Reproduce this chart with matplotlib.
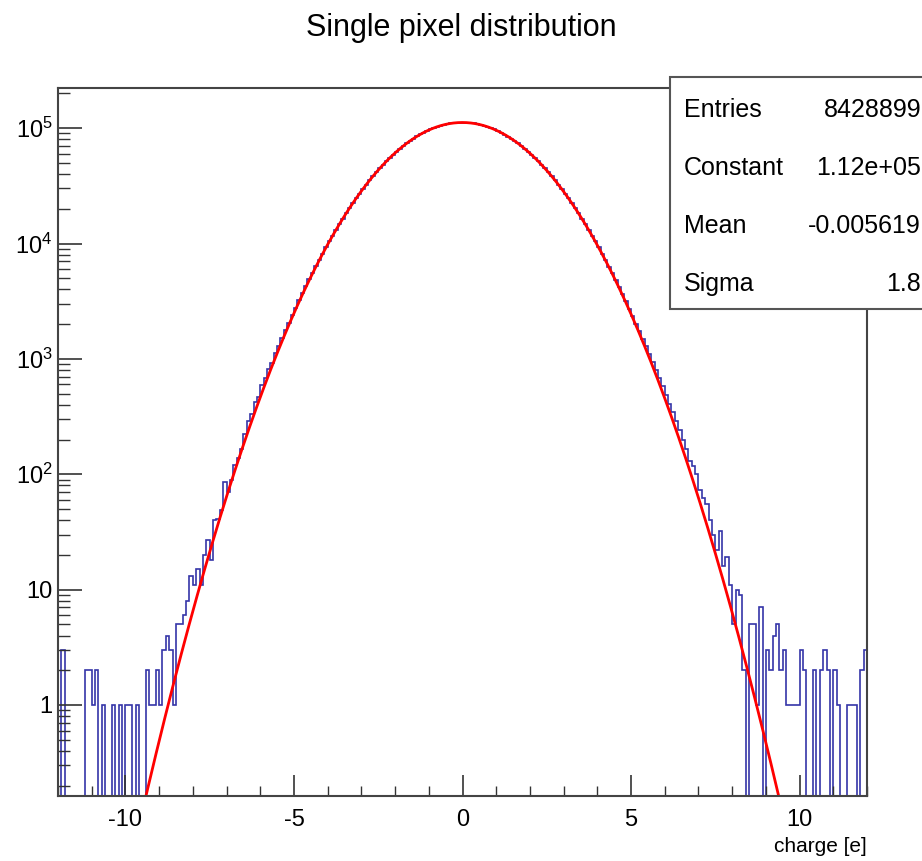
import numpy as np
import matplotlib
matplotlib.use("Agg")
import matplotlib.pyplot as plt
from matplotlib.patches import Rectangle
from matplotlib.ticker import FuncFormatter, MultipleLocator, FixedLocator, NullFormatter

# histogram: 240 bins of 0.1 e from -12 to 12, counts
x_min, x_max = -12.0, 12.0

counts_left_tail = [  # bins 0..54  (-12.0 .. -6.5)
    0, 3, 0, 0, 0, 0, 0, 0, 2, 2, 1, 2, 0, 1, 0, 0, 1, 0, 1, 0,
    1, 1, 0, 1, 0, 0, 2, 1, 1, 2, 1, 3, 4, 3, 1, 5, 5, 6, 8, 13,
    11, 15, 11, 20, 27, 18, 40, 41, 49, 85, 70, 90, 120, 138, 165,
]
counts_core = [  # bins 55..186  (-6.5 .. 6.7)
    225, 290, 335, 420, 470, 590, 680, 820, 930, 1130,
    1300, 1520, 1780, 2060, 2410, 2780, 3220, 3710, 4260, 4880,
    5570, 6350, 7220, 8190, 9250, 10440, 11720, 13150, 14700, 16400,
    18230, 20210, 22340, 24640, 27070, 29650, 32400, 35280, 38300, 41470,
    44750, 48150, 51650, 55240, 58890, 62600, 66340, 70080, 73830, 77530,
    81170, 84720, 88170, 91460, 94590, 97520, 100240, 102730, 104960, 106910,
    108560, 109900, 110920, 111600, 111950,
    111940, 111590, 110900, 109880, 108530, 106880, 104920, 102690, 100200, 97480,
    94550, 91420, 88120, 84680, 81130, 77500, 73800, 70060, 66310, 62580,
    58880, 55230, 51640, 48140, 44740, 41460, 38290, 35270, 32390, 29640,
    27060, 24630, 22340, 20210, 18230, 16410, 14710, 13160, 11730, 10450,
    9240, 8170, 7190, 6310, 5520, 4820, 4200, 3650, 3160, 2730,
    2350, 2020, 1740, 1500, 1290, 1100, 940, 800, 680, 580,
    490, 410, 345, 290, 240, 200, 165,
]
counts_right_tail = [  # bins 187..239  (6.7 .. 12.0)
    130, 118, 100, 73, 62, 55, 40, 30, 22, 32,
    16, 19, 11, 5, 10, 9, 2, 0, 5, 5,
    1, 7, 0, 3, 2, 4, 5, 2, 3, 1,
    1, 1, 1, 3, 2, 0, 0, 2, 0, 2,
    3, 2, 0, 2, 1, 0, 0, 1, 1, 1,
    0, 2, 3,
]
counts = np.array(counts_left_tail + counts_core + counts_right_tail, dtype=float)

# y axis decades and gaussian fit shown in the stats box
y_decades = [1, 10, 1e2, 1e3, 1e4, 1e5]
entries = 8428899
fit_constant = 1.12e5
fit_mean = -0.005619
fit_sigma = 1.81

plt.rcParams['font.family'] = ['Liberation Sans', 'DejaVu Sans']
plt.rcParams['axes.unicode_minus'] = False

W, H = 922, 861
fig = plt.figure(figsize=(W / 100, H / 100), dpi=100)
ax = fig.add_axes([58 / W, 1 - 796 / H, (867 - 58) / W, (796 - 88) / H])

edges = np.linspace(x_min, x_max, len(counts) + 1)
drawn = np.where(counts > 0, counts, 1e-3)  # empty bins drop below the axis, like ROOT
ax.stairs(drawn, edges, baseline=None, color='#3535a8', lw=1.2)

xf = np.linspace(x_min, x_max, 1500)
ax.plot(xf, fit_constant * np.exp(-0.5 * ((xf - fit_mean) / fit_sigma) ** 2),
        color='#ff0000', lw=2.0)

ax.set_yscale('log')
ax.set_xlim(x_min, x_max)
ax.set_ylim(0.1625, 2.23e5)


def log_label(v, pos):
    n = int(round(np.log10(v)))
    if n == 0:
        return '1'
    if n == 1:
        return '10'
    return r'$\mathregular{10^{%d}}$' % n


minor_y = [m * d for d in [0.1] + y_decades for m in range(2, 10) if m * d < 2.23e5]
ax.xaxis.set_major_locator(MultipleLocator(5))
ax.xaxis.set_minor_locator(MultipleLocator(1))
ax.yaxis.set_major_locator(FixedLocator(y_decades))
ax.yaxis.set_minor_locator(FixedLocator(minor_y))
ax.yaxis.set_major_formatter(FuncFormatter(log_label))
ax.yaxis.set_minor_formatter(NullFormatter())
ax.tick_params(which='both', direction='in', top=False, right=False,
               labelsize=17, colors='#333333', labelcolor='black')
ax.tick_params(axis='x', which='major', length=15, width=1.2, pad=9)
ax.tick_params(axis='x', which='minor', length=7.5, width=1.0)
ax.tick_params(axis='y', which='major', length=17, width=1.2, pad=4)
ax.tick_params(axis='y', which='minor', length=8.5, width=1.0)
for sp in ax.spines.values():
    sp.set_color('#444444')
    sp.set_linewidth(1.5)

fig.text(0.5, 1 - 28 / H, 'Single pixel distribution', ha='center', va='center',
         fontsize=22)
fig.text(867 / W, 1 - 847 / H, 'charge [e]', ha='right', va='center', fontsize=15)

# stats box, cut by the right edge of the picture
box = Rectangle((670 / W, 1 - 309 / H), 0.4, (309 - 77) / H, transform=fig.transFigure,
                facecolor='white', edgecolor='#555555', lw=1.5, zorder=5)
fig.add_artist(box)
rows = [
    ('Entries', f'{entries}'),
    ('Constant', f'{fit_constant:.2e}'),
    ('Mean', f'{fit_mean:.4g}'),
    ('Sigma', f'{fit_sigma:.2g}'),
]
row_y = [110, 168, 226, 284]
for (name, val), y in zip(rows, row_y):
    fig.text(684 / W, 1 - y / H, name, ha='left', va='center', fontsize=18, zorder=6)
    fig.text(921 / W, 1 - y / H, val, ha='right', va='center', fontsize=18, zorder=6)

fig.savefig('out.png', dpi=100)
